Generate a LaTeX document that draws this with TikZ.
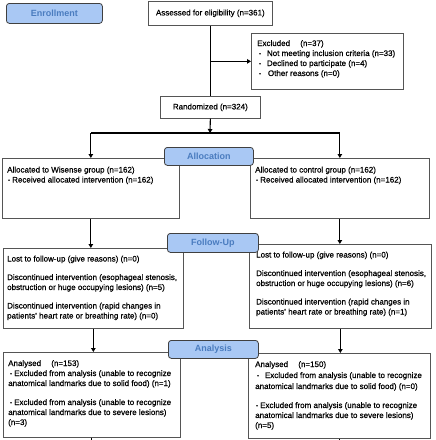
\documentclass[tikz,border=0pt]{standalone}
\usepackage{fontspec}
\setmainfont[FakeBold=0.5]{Liberation Sans}
\newfontfamily\lblfont{Liberation Sans}
\usetikzlibrary{arrows.meta,calc}
\definecolor{lblue}{HTML}{A9C8F4}
\definecolor{lbltext}{HTML}{4A7CBF}
\definecolor{boxline}{HTML}{555555}
\newcommand{\cbul}{{\fontsize{5}{5}\selectfont\raisebox{0.6pt}{\textbullet}}}
\begin{document}
\begin{tikzpicture}[x=1pt,y=-1pt,
  box/.style={draw=boxline, line width=0.7pt, fill=white, inner sep=0, anchor=north west, font=\fontsize{8}{10}\selectfont},
  lbl/.style={draw=black!75, line width=0.8pt, fill=lblue, rounded corners=3pt, inner sep=0, anchor=north west, font=\lblfont\fontsize{9}{10}\selectfont\bfseries, text=lbltext},
  txt/.style={anchor=north west, inner sep=0, align=left, font=\fontsize{8}{10}\selectfont},
  conn/.style={line width=1.1pt, black},
  arr/.style={conn, -{Triangle[length=4pt,width=4.5pt]}},
]
\useasboundingbox (0,0) rectangle (436,440);

% boxes
\node[box, minimum width=124pt, minimum height=24pt] (assess) at (148,1) {Assessed for eligibility (n=361)};
\node[box, minimum width=152pt, minimum height=56pt] (excl) at (251,33) {};
\node[box, minimum width=100pt, minimum height=22pt] (rand) at (160,96) {Randomized (n=324)};
\node[box, minimum width=177pt, minimum height=60pt] (allocL) at (2,158) {};
\node[box, minimum width=179pt, minimum height=60pt] (allocR) at (250,158) {};
\node[box, minimum width=180pt, minimum height=80pt] (folL) at (3,248) {};
\node[box, minimum width=182pt, minimum height=84pt] (folR) at (249,244) {};
\node[box, minimum width=177pt, minimum height=85pt] (anL) at (3,352) {};
\node[box, minimum width=182pt, minimum height=85pt] (anR) at (248,353) {};

% texts
\node[txt] (exclt) at ($(excl.north west)+(6,7)$) {Excluded\quad\ (n=37)\\
\hspace*{2pt}\cbul\hspace{6pt}Not meeting inclusion criteria (n=33)\\
\hspace*{2pt}\cbul\hspace{6pt}Declined to participate (n=4)\\
\hspace*{2pt}\cbul\hspace{7pt}Other reasons (n=0)};
\node[txt] (allocLt) at ($(allocL.north west)+(5,8.5)$) {Allocated to Wisense group (n=162)\\
\hspace*{1pt}\cbul\ Received allocated intervention (n=162)};
\node[txt] (allocRt) at ($(allocR.north west)+(5,8.5)$) {Allocated to control group (n=162)\\
\hspace*{1pt}\cbul\ Received allocated intervention (n=162)};
\node[txt] (folLt) at ($(folL.north west)+(4,7.5)$) {Lost to follow-up (give reasons) (n=0)\\[8.5pt]
Discontinued intervention (esophageal stenosis,\\
obstruction or huge occupying lesions) (n=5)\\[8.5pt]
Discontinued intervention (rapid changes in\\
patients' heart rate or breathing rate) (n=0)};
\node[txt] (folRt) at ($(folR.north west)+(7,7.5)$) {Lost to follow-up (give reasons) (n=0)\\[8.5pt]
Discontinued intervention (esophageal stenosis,\\
obstruction or huge occupying lesions) (n=6)\\[8.5pt]
Discontinued intervention (rapid changes in\\
patients' heart rate or breathing rate) (n=1)};
\node[txt] (anLt) at ($(anL.north west)+(5,8)$) {Analysed\quad\ (n=153)\\
\hspace*{2pt}\cbul\ Excluded from analysis (unable to recognize\\
anatomical landmarks due to solid food) (n=1)\\[9pt]
\hspace*{2pt}\cbul\ Excluded from analysis (unable to recognize\\
anatomical landmarks due to severe lesions)\\
(n=3)};
\node[txt] (anRt) at ($(anR.north west)+(7,8)$) {Analysed\quad\ (n=150)\\[1pt]
\hspace*{2pt}\cbul\hspace{6pt}Excluded from analysis (unable to recognize\\[1pt]
anatomical landmarks due to solid food) (n=0)\\[9pt]
\hspace*{1pt}\cbul\ Excluded from analysis (unable to recognize\\
anatomical landmarks due to severe lesions)\\
(n=5)};

% connectors
\coordinate (split) at (210,133);
\coordinate (endL) at (92,441);
\draw[conn] (assess.south) -- (rand.north);
\draw[arr] (assess.south |- excl.west) -- (excl.west);
\draw[arr] (rand.south) -- (split);
\draw[conn] (allocL.north |- split) -- (allocR.north |- split);
\draw[arr] (allocL.north |- split) -- (allocL.north);
\draw[arr] (allocR.north |- split) -- (allocR.north);
\draw[arr] (allocL.south) -- (allocL.south |- folL.north);
\draw[arr] (allocR.south) -- (allocR.south |- folR.north);
\draw[arr] (folL.south) -- (folL.south |- anL.north);
\draw[arr] (folR.south) -- (folR.south |- anR.north);
\draw[conn] (anL.south) -- (anL.south |- endL);
\draw[conn] (anR.south) -- (anR.south |- endL);

% stage labels
\node[lbl, minimum width=96pt, minimum height=20pt] (enroll) at (6,3) {Enrollment};
\node[lbl, minimum width=89pt, minimum height=18pt] (alloc) at (164,147) {Allocation};
\node[lbl, minimum width=91pt, minimum height=19pt] (follow) at (167,233) {Follow-Up};
\node[lbl, minimum width=90pt, minimum height=18pt] (analysis) at (168,340) {Analysis};
\end{tikzpicture}
\end{document}
